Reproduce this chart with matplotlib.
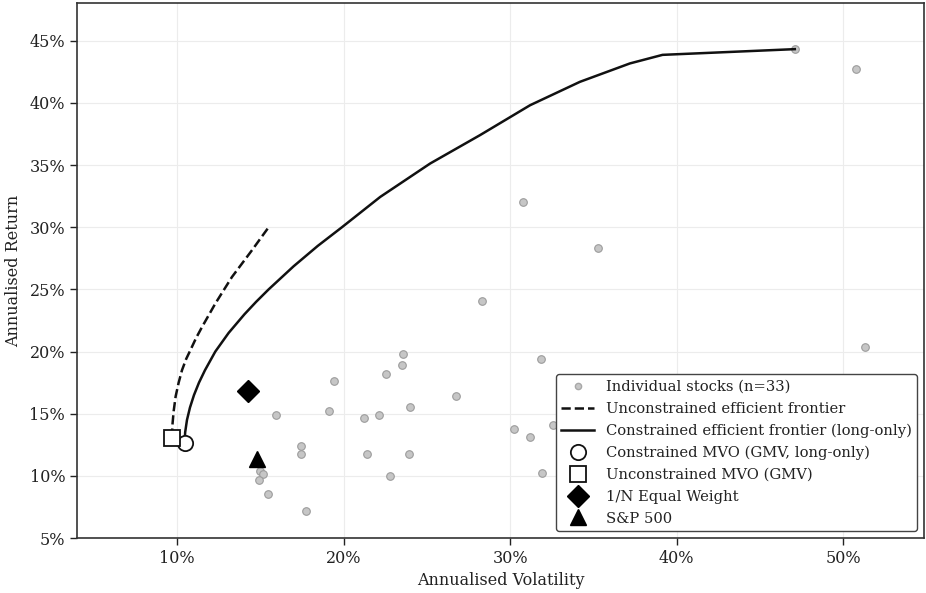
import matplotlib
matplotlib.use("Agg")
import matplotlib.pyplot as plt
from matplotlib.lines import Line2D
from matplotlib.ticker import FuncFormatter

plt.rcParams['font.family'] = ['DejaVu Serif']

# individual stocks, annualised volatility / return in %
stock_vol = [47.09, 50.79, 30.77, 35.27, 28.32, 51.29, 31.85, 23.58, 23.52, 22.56,
             19.44, 15.96, 19.14, 21.24, 22.14, 24.00, 26.75, 17.46, 17.46, 21.42,
             23.94, 22.80, 15.00, 15.18, 14.94, 15.48, 17.76, 30.23, 31.19, 32.57,
             31.91, 38.00, 44.00]
stock_ret = [44.33, 42.75, 32.01, 28.31, 24.04, 20.34, 19.37, 19.77, 18.89, 18.16,
             17.60, 14.86, 15.19, 14.62, 14.86, 15.51, 16.39, 12.37, 11.80, 11.80,
             11.72, 10.03, 10.43, 10.19, 9.63, 8.58, 7.21, 13.74, 13.09, 14.06,
             10.27, 12.00, 9.50]

# unconstrained frontier (dashed)
unc_vol = [9.70, 9.72, 9.80, 9.92, 10.10, 10.30, 10.55, 10.80, 11.15, 11.50,
           12.30, 13.30, 14.50, 15.49]
unc_ret = [13.07, 14.00, 15.20, 16.40, 17.50, 18.50, 19.40, 20.10, 21.10, 21.97,
           23.86, 26.00, 28.15, 29.98]

# constrained long-only frontier (solid)
con_vol = [10.46, 10.49, 10.60, 10.78, 11.02, 11.32, 11.68, 12.30, 13.10, 14.05,
           14.75, 15.50, 17.00, 18.45, 19.90, 22.20, 25.20, 28.19, 31.20, 34.19,
           37.19, 39.15, 47.09]
con_ret = [12.66, 13.50, 14.50, 15.50, 16.50, 17.50, 18.50, 20.00, 21.50, 23.00,
           24.00, 25.00, 26.86, 28.50, 30.00, 32.44, 35.13, 37.41, 39.82, 41.70,
           43.18, 43.87, 44.33]

gmv_con = (10.46, 12.66)
gmv_unc = (9.70, 13.07)
equal_w = (14.24, 16.85)
sp500 = (14.82, 11.35)

fig = plt.figure(figsize=(9.26, 5.93), dpi=100)
ax = fig.add_axes([0.0832, 0.0927, 0.9147, 0.9022])

ax.grid(True, color='#ececec', linewidth=0.8, zorder=0)
ax.set_axisbelow(True)

ax.scatter(stock_vol, stock_ret, s=30, facecolor='#c6c6c6', edgecolor='#9c9c9c',
           linewidth=0.8, zorder=2)
ax.plot(unc_vol, unc_ret, color='#111111', linestyle='--', linewidth=1.8, zorder=3)
ax.plot(con_vol, con_ret, color='#111111', linewidth=1.8, zorder=3)

ax.plot(*gmv_con, marker='o', markersize=11, markerfacecolor='white',
        markeredgecolor='#111111', markeredgewidth=1.3, linestyle='none', zorder=5)
ax.plot(*gmv_unc, marker='s', markersize=11, markerfacecolor='white',
        markeredgecolor='#111111', markeredgewidth=1.3, linestyle='none', zorder=5)
ax.plot(*equal_w, marker='D', markersize=11, color='black', linestyle='none', zorder=5)
ax.plot(*sp500, marker='^', markersize=12, color='black', linestyle='none', zorder=5)

handles = [
    Line2D([], [], marker='o', markersize=4.5, markerfacecolor='#c6c6c6',
           markeredgecolor='#a8a8a8', linestyle='none'),
    Line2D([], [], color='#111111', linestyle='--', linewidth=1.8),
    Line2D([], [], color='#111111', linewidth=1.8),
    Line2D([], [], marker='o', markersize=11, markerfacecolor='white',
           markeredgecolor='#111111', markeredgewidth=1.3, linestyle='none'),
    Line2D([], [], marker='s', markersize=11, markerfacecolor='white',
           markeredgecolor='#111111', markeredgewidth=1.3, linestyle='none'),
    Line2D([], [], marker='D', markersize=11, color='black', linestyle='none'),
    Line2D([], [], marker='^', markersize=12, color='black', linestyle='none'),
]
labels = [
    'Individual stocks (n=33)',
    'Unconstrained efficient frontier',
    'Constrained efficient frontier (long-only)',
    'Constrained MVO (GMV, long-only)',
    'Unconstrained MVO (GMV)',
    '1/N Equal Weight',
    'S&P 500',
]
leg = ax.legend(handles, labels, loc='lower right', fontsize=10.6, framealpha=1,
                edgecolor='#444444', fancybox=True, borderpad=0.4,
                labelspacing=0.53, handlelength=2.2, borderaxespad=0.45)
leg.get_frame().set_linewidth(1.0)
for t in leg.get_texts():
    t.set_color('#222222')

ax.set_xlim(4.0, 54.85)
ax.set_ylim(5.0, 48.04)
ax.set_xticks([10, 20, 30, 40, 50])
ax.set_yticks([5, 10, 15, 20, 25, 30, 35, 40, 45])
pct = FuncFormatter(lambda v, p: f'{v:.0f}%')
ax.xaxis.set_major_formatter(pct)
ax.yaxis.set_major_formatter(pct)
ax.tick_params(labelsize=11.5, colors='#222222', length=5, width=1.0)

for s in ax.spines.values():
    s.set_color('#333333')
    s.set_linewidth(1.2)

ax.set_xlabel('Annualised Volatility', fontsize=11.5, color='#222222', labelpad=4)
ax.set_ylabel('Annualised Return', fontsize=11.5, color='#222222', labelpad=5)

fig.savefig('out.png', dpi=100)
